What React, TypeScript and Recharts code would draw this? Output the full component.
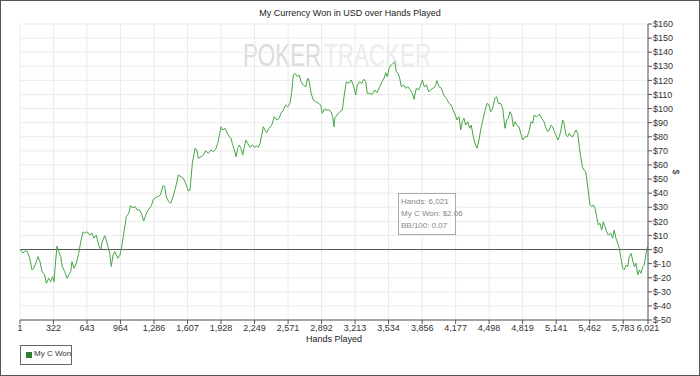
import React from 'react';
import { LineChart, Line, XAxis, YAxis, CartesianGrid, ReferenceLine } from 'recharts';

const title = 'My Currency Won in USD over Hands Played';
const xAxisLabel = 'Hands Played';
const yAxisLabel = '$';
const seriesName = 'My C Won';
const infoLines = ['Hands: 6,021', 'My C Won: $2.06', 'BB/100: 0.07'];
const watermarkA = 'POKER';
const watermarkB = 'TRACKER';

const xTicks = [1, 322, 643, 964, 1286, 1607, 1928, 2249, 2571, 2892, 3213, 3534, 3856, 4177, 4498, 4819, 5141, 5462, 5783, 6021];
const yTicks = [-50, -40, -30, -20, -10, 0, 10, 20, 30, 40, 50, 60, 70, 80, 90, 100, 110, 120, 130, 140, 150, 160];

const hands = [
  1, 30, 52, 71, 94, 116, 135, 157, 174, 193, 212, 238, 253, 276, 295, 314, 327, 343, 356, 372,
  391, 406, 429, 452, 468, 487, 499, 519, 541, 564, 583, 605, 621, 643, 669, 691, 710, 732, 755, 775,
  790, 813, 828, 845, 861, 876, 893, 909, 924, 940, 960, 979, 998, 1020, 1043, 1062, 1084, 1106, 1125, 1148,
  1164, 1187, 1212, 1235, 1260, 1276, 1298, 1324, 1346, 1372, 1388, 1403, 1426, 1446, 1468, 1490, 1509,
  1518, 1544, 1566, 1589, 1614, 1631, 1653, 1679, 1695, 1710, 1736, 1758, 1781, 1806, 1832, 1854, 1877, 1896,
  1912, 1928, 1944, 1966, 1982, 2004, 2024, 2036, 2055, 2072, 2088, 2103, 2119, 2136, 2151, 2167, 2184, 2206,
  2228, 2247, 2270, 2285, 2302, 2318, 2333, 2350, 2366, 2388, 2414, 2439, 2462, 2484, 2503, 2525, 2548, 2567,
  2589, 2606, 2621, 2637, 2659, 2678, 2695, 2717, 2740, 2759, 2771, 2791, 2813, 2836, 2861, 2884, 2899, 2918,
  2941, 2963, 2982, 2998, 3011,
  3018, 3040, 3066, 3091, 3107, 3129, 3155, 3177, 3200, 3219, 3234, 3257, 3277, 3296, 3315, 3330, 3353, 3378,
  3401, 3423, 3449, 3471, 3490, 3507, 3522, 3538, 3560, 3577, 3593, 3608, 3625, 3641, 3656, 3679, 3698, 3720,
  3743, 3762, 3778, 3800, 3823, 3842, 3858, 3877, 3896, 3919, 3938, 3960, 3979, 3998, 4018, 4040, 4063, 4088,
  4114, 4135, 4152, 4174, 4190, 4210, 4226, 4241, 4257, 4273, 4293, 4312, 4327, 4343, 4362, 4382, 4401, 4417,
  4434, 4456, 4478, 4497, 4513, 4529,
  4554, 4570, 4586, 4609, 4628, 4650, 4667, 4682, 4698, 4714, 4730, 4746, 4763, 4785, 4801, 4820, 4842, 4864,
  4884, 4900, 4916, 4931, 4954, 4979, 5002, 5024, 5043, 5059, 5075, 5091, 5107, 5123, 5139, 5156, 5171, 5187,
  5203, 5216, 5235, 5251, 5267, 5283, 5299, 5315, 5331, 5347, 5363, 5376, 5392, 5408, 5424, 5439, 5455, 5465,
  5481, 5497, 5513, 5529, 5544, 5561, 5577, 5593, 5609, 5625, 5640, 5663, 5682, 5697, 5714, 5730, 5746, 5762,
  5778, 5794, 5810, 5826, 5842, 5858, 5874, 5890, 5906, 5922, 5938, 5954, 5970, 5986, 6002, 6018, 6021,
];

const won = [
  0, -2.5, -1, -1.5, -6, -14.5, -13, -8.6, -5, -8.6, -15.7, -18, -24, -20.4, -22.8, -19.3, -22.8, -7.5, 2.5, -1.5,
  -5, -12, -15.7, -20.4, -18, -15.7, -8.6, -13.4, -9.8, -2.7, 5.5, 12.6, 11.5, 12.6, 10.3, 11.5, 8, 10.3, 3.2, 0,
  5.5, 9.8, 6.7, 2, -2.7, -12, -3.9, -1.5, -3.9, -6.2, -3.9, 3.2, 12.6, 23.3, 25.7, 31, 29.7, 30.4, 28, 28,
  25.7, 20.2, 25.7, 28.7, 31, 35, 36.8, 37.5, 38.7, 45.3, 44.6, 37.5, 34, 32.8, 37.5, 43.4, 49.3,
  52.9, 51.7, 50.5, 47, 41.7, 42.2, 61.2, 71.8, 70.6, 64.7, 65.8, 67, 70.1, 68.2, 70.6, 69.4, 71.1, 75.3,
  81.2, 87.1, 84.8, 86, 83.6, 80.5, 78.9, 75.3, 70.6, 65.8, 71.8, 74.1, 71.8, 67, 72.9, 77.7, 75.3, 72.5,
  74.1, 72.5, 73.4, 72.5, 75.3, 81.2, 87.1, 84.8, 82.9, 86, 88.3, 94.2, 91.9, 93.1, 96.6, 99, 102.5, 101.3,
  103.7, 112, 123.8, 125, 122.6, 123.8, 119, 116.7, 115.5, 121.5, 120.3, 110.8, 106.1, 104.9, 103.7, 102.5, 96.6, 99.5,
  99, 99, 97.8, 94.2, 87.1,
  93.1, 95.4, 97.8, 99, 108.4, 119, 117.9, 120.3, 115.5, 109.6, 116.7, 119, 117.9, 120.8, 119, 110.8, 110.8, 110.1,
  113.2, 111.3, 115.5, 119, 121.5, 125.4, 122.6, 128.6, 130.9, 132.1, 133.2, 126.1, 125, 121.5, 115.5, 116.7, 114.4, 115.5,
  113.2, 110.8, 106.6, 114.4, 113.2, 116.7, 120.3, 115.5, 116.7, 112, 113.2, 114.4, 115.5, 119.8, 115.5, 114.4, 109.6, 107.3,
  103.7, 102.5, 99, 95.4, 91.9, 94.2, 84.8, 90.7, 93.1, 88.3, 90.7, 86, 88.3, 81.2, 75.3, 71.8, 77.7, 84.8,
  90.7, 97.8, 103.7, 102.5, 97.8, 99.5,
  107.3, 108.4, 103.7, 103.7, 100.2, 86, 91.9, 93.1, 97.8, 95.4, 87.1, 90.7, 88.3, 87.1, 82.4, 77.7, 80, 80,
  84.8, 90.7, 89.5, 95.4, 94.2, 96.1, 93.1, 90.7, 86, 83.6, 84.8, 88.3, 87.1, 83.6, 81.2, 77.7, 80, 84.8,
  91.9, 89.5, 81.2, 80, 82.4, 80.5, 80, 82.4, 84.8, 82.4, 72.9, 65.8, 58.7, 56.4, 55.2, 47, 37.5, 31.6,
  30.4, 31.6, 29.2, 23.3, 17.4, 18.6, 13.8, 19.7, 16.2, 12.6, 10.3, 11.5, 8, 13.8, 8, 4.4, 0.9, -6.2,
  -13.3, -14.5, -11, -12.2, -5.1, -2.7, -7.5, -12.2, -9.8, -18, -14.5, -16.9, -12.2, -11, -2.7, 2, 2.06,
];

const data = hands.map((h, i) => ({ hand: h, won: won[i] }));

const FONT = '"Liberation Sans", Arial, sans-serif';
const fmtHands = (v: number) => v.toLocaleString('en-US');
const fmtUsd = (v: number) => `$${v}`;

export default function App() {
  return (
    <div
      style={{
        position: 'absolute',
        left: 0,
        top: 0,
        width: 700,
        height: 376,
        boxSizing: 'border-box',
        border: '1px solid #555',
        background: '#fff',
        fontFamily: FONT,
        overflow: 'hidden',
      }}
    >
      <svg width={700} height={376} style={{ position: 'absolute', left: -1, top: -1 }}>
        <g transform="scale(0.7,1)">
          <text x={347} y={66} fontFamily={FONT} fontSize={32} fill="#dcdcdc">
            {watermarkA}
          </text>
          <text x={463} y={66} fontFamily={FONT} fontSize={32} fill="#ececec">
            {watermarkB}
          </text>
        </g>
      </svg>
      <div style={{ position: 'absolute', left: -1, top: -1 }}>
        <LineChart width={700} height={376} data={data} margin={{ top: 24, right: 12, bottom: 36, left: 20 }}>
          <CartesianGrid stroke="#ebebeb" strokeWidth={1} />
          <XAxis
            dataKey="hand"
            type="number"
            domain={[1, 6021]}
            ticks={xTicks}
            interval={0}
            tickFormatter={fmtHands}
            height={20}
            tickSize={4}
            tickMargin={1}
            stroke="#555"
            tick={{ fontSize: 9, fill: '#333', fontFamily: FONT }}
            allowDataOverflow
          />
          <YAxis
            orientation="right"
            type="number"
            domain={[-50, 160]}
            ticks={yTicks}
            interval={0}
            tickFormatter={fmtUsd}
            width={40}
            tickSize={4}
            tickMargin={1}
            stroke="#555"
            tick={{ fontSize: 9, fill: '#333', fontFamily: FONT, textAnchor: 'start' }}
            allowDataOverflow
          />
          <ReferenceLine y={0} stroke="#555" strokeWidth={1} />
          <Line
            type="linear"
            dataKey="won"
            stroke="#46a546"
            strokeWidth={1}
            dot={false}
            isAnimationActive={false}
          />
        </LineChart>
      </div>
      <div style={{ position: 'absolute', left: 0, top: 7, width: 698, textAlign: 'center', fontSize: 9, color: '#222' }}>
        {title}
      </div>
      <div style={{ position: 'absolute', left: 19, top: 333, width: 628, textAlign: 'center', fontSize: 9, color: '#222' }}>
        {xAxisLabel}
      </div>
      <div
        style={{
          position: 'absolute',
          left: 672,
          top: 166,
          fontSize: 9,
          color: '#222',
          transform: 'rotate(90deg)',
        }}
      >
        {yAxisLabel}
      </div>
      <div
        style={{
          position: 'absolute',
          left: 19,
          top: 344,
          width: 52,
          height: 20,
          boxSizing: 'border-box',
          border: '1px solid #666',
          background: '#fff',
        }}
      >
        <div style={{ position: 'absolute', left: 5, top: 6, width: 6, height: 6, background: '#2e7d32' }} />
        <div style={{ position: 'absolute', left: 13, top: 3, fontSize: 8, color: '#333', whiteSpace: 'nowrap' }}>
          {seriesName}
        </div>
      </div>
      <div
        style={{
          position: 'absolute',
          left: 397,
          top: 192,
          width: 58,
          height: 42,
          boxSizing: 'border-box',
          border: '1px solid #aaa',
          background: 'rgba(255,255,255,0.85)',
          padding: '2px 0 0 2px',
        }}
      >
        {infoLines.map((t) => (
          <div key={t} style={{ fontSize: 8, lineHeight: '12px', color: '#888', whiteSpace: 'nowrap' }}>
            {t}
          </div>
        ))}
      </div>
    </div>
  );
}
